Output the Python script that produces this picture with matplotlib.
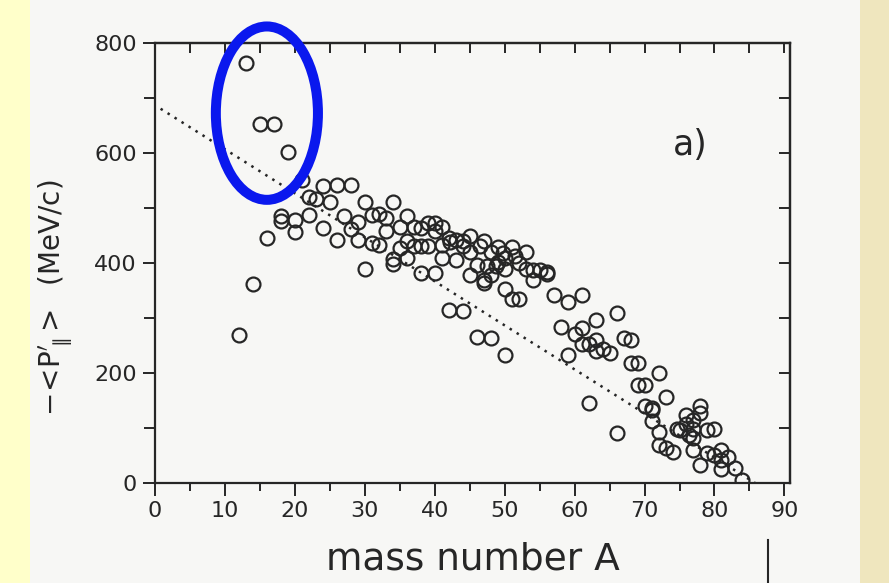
import matplotlib
matplotlib.use("Agg")
import matplotlib.pyplot as plt
from matplotlib.patches import Ellipse, Rectangle
from matplotlib.lines import Line2D
from matplotlib.ticker import MultipleLocator

# mass number A and -<P'_par> (MeV/c)
mass_A = [12, 13, 14, 15, 16, 17, 18, 18, 19, 20, 20, 21, 22, 22, 23, 24, 24, 25,
          26, 26, 27, 28, 28, 29, 29, 30, 30, 31, 31, 32, 32, 33, 33, 34, 34, 34,
          35, 35, 36, 36, 36, 37, 37, 38, 38, 38, 39, 39, 40, 40, 40, 41, 41, 41,
          42, 42, 42.2, 43, 43, 44, 44, 44, 45, 45, 45, 46, 46, 46.5, 47, 47, 47,
          47.5, 48, 48, 48, 48.8, 49, 49, 49.8, 50, 50, 50, 50, 51, 51, 51.5, 52,
          52, 53, 53, 54, 54, 55, 56, 56, 57, 58, 59, 59, 60, 61, 61, 61, 62, 62,
          63, 63, 63, 64, 65, 66, 66, 67, 68, 68, 69, 69, 70, 70, 71, 71, 71, 72,
          72, 72, 73, 73, 74, 74.6, 75, 76, 76, 76.3, 77, 77, 77, 77, 78, 78, 78,
          78.9, 79, 80, 80, 81, 81, 81, 82, 83, 84]
mom_P = [268, 764, 362, 653, 446, 653, 485, 476, 601, 477, 456, 550, 487, 519, 516,
         539, 464, 511, 542, 442, 486, 542, 461, 474, 441, 510, 389, 487, 436, 489,
         433, 482, 457, 510, 407, 398, 465, 427, 486, 439, 409, 465, 430, 463, 430,
         381, 473, 430, 473, 457, 381, 466, 433, 409, 445, 315, 437, 442, 405, 430,
         312, 440, 448, 420, 378, 396, 265, 430, 440, 369, 363, 395, 378, 263, 420,
         395, 428, 402, 418, 409, 389, 352, 233, 428, 334, 412, 400, 334, 419, 389,
         387, 369, 387, 384, 380, 342, 283, 329, 233, 271, 341, 281, 253, 253, 146,
         296, 260, 239, 243, 236, 308, 91, 263, 260, 218, 218, 178, 178, 139, 136,
         113, 133, 199, 93, 69, 156, 63, 57, 99, 96, 124, 108, 87, 115, 99, 81, 60,
         140, 127, 33, 96, 54, 98, 51, 60, 42, 25, 47, 27, 6]

# dotted reference line
line_A = [0.8, 85.8]
line_P = [680, 0]

ink = "#262626"
plt.rcParams["font.family"] = ["DejaVu Sans"]

fig = plt.figure(figsize=(8.89, 5.83), dpi=100)
fig.patch.set_facecolor("#FFFFCA")
# scanned page and right-hand border
fig.add_artist(Rectangle((30 / 889, 0), 830 / 889, 1, transform=fig.transFigure,
                         facecolor="#F7F7F5", edgecolor="none", zorder=-10))
fig.add_artist(Rectangle((860 / 889, 0), 29 / 889, 1, transform=fig.transFigure,
                         facecolor="#EFE6BE", edgecolor="none", zorder=-10))
fig.add_artist(Line2D([768 / 889, 768 / 889], [0, 43 / 583], transform=fig.transFigure,
                      color=ink, lw=1.5))

ax = fig.add_axes([155 / 889, 1 - 483 / 583, 635 / 889, 440.3 / 583])
ax.set_facecolor("none")

ax.plot(line_A, line_P, color=ink, lw=1.8, linestyle=(0, (1, 2.3)))
ax.plot(mass_A, mom_P, linestyle="none", marker="o", markersize=10,
        markerfacecolor="none", markeredgecolor=ink, markeredgewidth=1.6)

ax.add_patch(Ellipse((16.0, 672), 14.6, 315, fill=False, edgecolor="#0A18EE",
                     lw=7.2, clip_on=False, zorder=5))

ax.text(76.5, 615, "a)", fontsize=25, color=ink, ha="center", va="center")

ax.set_xlim(0, 90.8)
ax.set_ylim(0, 800)
ax.xaxis.set_major_locator(MultipleLocator(10))
ax.xaxis.set_minor_locator(MultipleLocator(5))
ax.yaxis.set_major_locator(MultipleLocator(200))
ax.yaxis.set_minor_locator(MultipleLocator(100))
ax.tick_params(which="both", direction="out", width=1.4, color=ink,
               labelsize=16, labelcolor=ink, top=False, right=False)
ax.tick_params(which="major", length=9, pad=4)
ax.tick_params(which="minor", length=6)
ax.tick_params(axis="y", which="minor", length=8)

# inward ticks on the top and right frame
top = ax.secondary_xaxis("top")
top.xaxis.set_major_locator(MultipleLocator(5))
top.tick_params(direction="in", length=7, width=1.4, color=ink, labeltop=False)
right = ax.secondary_yaxis("right")
right.yaxis.set_major_locator(MultipleLocator(100))
right.tick_params(direction="in", length=8, width=1.4, color=ink, labelright=False)

for a in (ax, top, right):
    for s in a.spines.values():
        s.set_linewidth(1.6)
        s.set_color(ink)

ax.set_xlabel("mass number A", fontsize=27, color=ink, labelpad=15)
ax.set_ylabel(r"$-\!<\!\mathrm{P}^{\prime}_{\parallel}\!>$  (MeV/c)", fontsize=20, color=ink)
ax.yaxis.set_label_coords(-0.126, 0.42)

fig.savefig("out.png", dpi=100)
